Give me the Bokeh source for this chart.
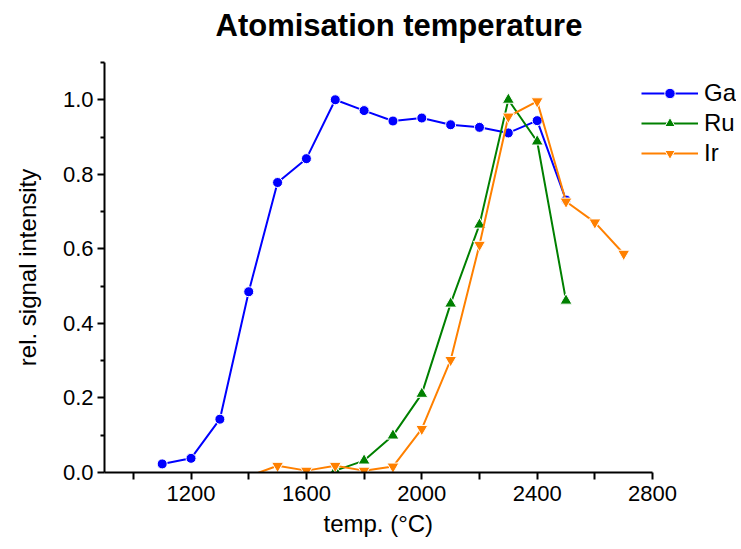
from bokeh.plotting import figure
from bokeh.models import FixedTicker, Title, Range1d, Legend, LegendItem, PrintfTickFormatter
from bokeh.embed import file_html
from bokeh.resources import INLINE

# ---- data ----
temp_ga = [1100, 1200, 1300, 1400, 1500, 1600, 1700, 1800, 1900, 2000, 2100, 2200, 2300, 2400, 2500]
signal_ga = [0.023, 0.038, 0.143, 0.485, 0.778, 0.842, 1.0, 0.971, 0.943, 0.951, 0.933, 0.926, 0.911, 0.944, 0.731]

temp_ru = [1700, 1800, 1900, 2000, 2100, 2200, 2300, 2400, 2500]
signal_ru = [0.005, 0.032, 0.099, 0.211, 0.453, 0.665, 1.0, 0.888, 0.461]

temp_ir = [1400, 1500, 1600, 1700, 1800, 1900, 2000, 2100, 2200, 2300, 2400, 2500, 2600, 2700]
signal_ir = [-0.01, 0.018, 0.005, 0.018, 0.005, 0.016, 0.117, 0.302, 0.611, 0.955, 0.996, 0.727, 0.671, 0.587]

x_major = [1200, 1600, 2000, 2400, 2800]
x_minor = [1000, 1400, 1800, 2200, 2600]
y_major = [0.0, 0.2, 0.4, 0.6, 0.8, 1.0]
y_minor = [0.1, 0.3, 0.5, 0.7, 0.9, 1.1]

FONT = "Liberation Sans"

# frame: 104..736 px wide; the x axis itself ends at 2800 (x=652 px)
p = figure(width=741, height=549, x_range=Range1d(900, 3091), y_range=Range1d(0, 1.1),
           output_backend="svg", toolbar_location=None,
           min_border_left=104, min_border_right=5, min_border_top=62, min_border_bottom=77)
p.outline_line_color = None
p.xgrid.visible = False
p.ygrid.visible = False

# spacer (nearest the frame) then the real title further out
spacer = Title(text=" ", text_font=FONT, text_font_size="10px", standoff=7)
p.add_layout(spacer, "above")
title = Title(text="Atomisation temperature", align="left", vertical_align="bottom", text_font=FONT,
              text_font_size="31px", text_font_style="bold", text_color="black",
              offset=111, standoff=0)
p.add_layout(title, "above")

for ax in (p.xaxis[0], p.yaxis[0]):
    ax.axis_line_width = 2
    ax.axis_line_color = "black"
    ax.major_tick_line_width = 2
    ax.minor_tick_line_width = 2
    ax.major_tick_in = 0
    ax.minor_tick_in = 0
    ax.major_tick_out = 7
    ax.major_label_text_font = FONT
    ax.major_label_text_font_size = "22px"
    ax.major_label_text_color = "black"
    ax.axis_label_text_font = FONT
    ax.axis_label_text_font_size = "24px"
    ax.axis_label_text_font_style = "normal"
    ax.axis_label_text_color = "black"

p.xaxis[0].ticker = FixedTicker(ticks=x_major, minor_ticks=x_minor)
p.xaxis[0].bounds = (900, 2800)
p.xaxis[0].minor_tick_out = 7
p.xaxis[0].major_label_standoff = 6

# x axis title, centred under the drawn axis (not under the wider frame)
xtitle = Title(text="temp. (°C)", align="left", vertical_align="bottom", text_font=FONT,
               text_font_size="24px", text_font_style="normal", text_color="black",
               offset=219, standoff=8)
p.add_layout(xtitle, "below")

p.yaxis[0].ticker = FixedTicker(ticks=y_major, minor_ticks=y_minor)
p.yaxis[0].minor_tick_out = 4
p.yaxis[0].formatter = PrintfTickFormatter(format="%.1f")
p.yaxis[0].major_label_standoff = 4
p.yaxis[0].axis_label = "rel. signal intensity"
p.yaxis[0].axis_label_standoff = 19

items = []
series = [("Ga", temp_ga, signal_ga, "#0000ff", "circle", 10),
          ("Ru", temp_ru, signal_ru, "#008000", "triangle", 12),
          ("Ir", temp_ir, signal_ir, "#ff8000", "inverted_triangle", 12)]
for name, xs, ys, col, mk, sz in series:
    l = p.line(xs, ys, line_color=col, line_width=2)
    s = p.scatter(xs, ys, marker=mk, size=sz, fill_color=col, line_color="white", line_width=1)
    items.append(LegendItem(label=name, renderers=[l, s]))

legend = Legend(items=items, location=(537, 305), glyph_width=57, glyph_height=26,
                spacing=2, padding=0, margin=0, label_standoff=6,
                label_text_font=FONT, label_text_font_size="24px", label_text_color="black",
                border_line_color=None, background_fill_alpha=0)
p.add_layout(legend, "center")

open("out.html", "w").write(file_html(p, INLINE))
